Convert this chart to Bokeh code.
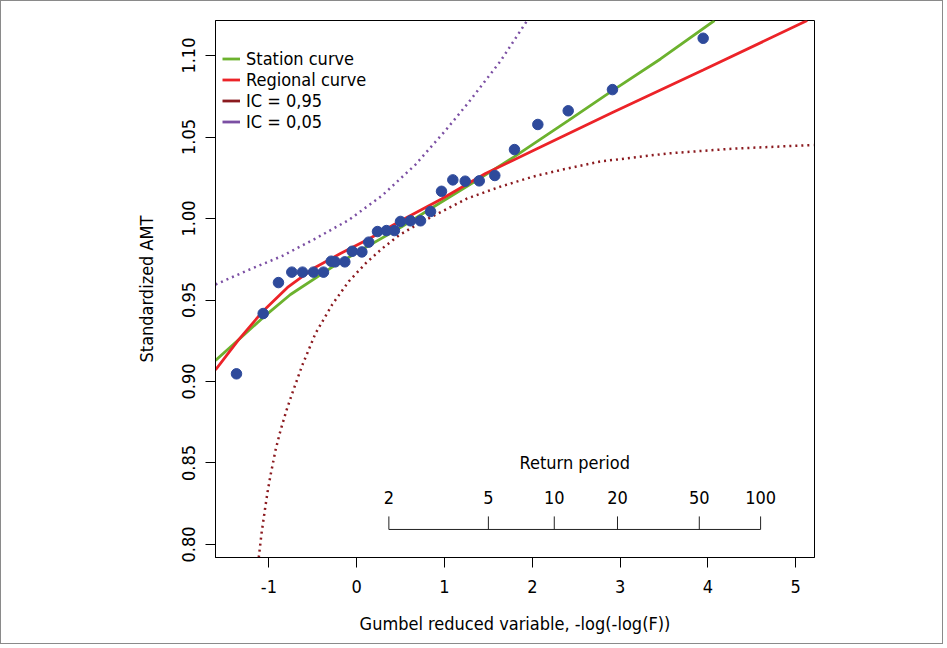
import math
from bokeh.plotting import figure
from bokeh.models import FixedTicker, PrintfTickFormatter, Legend, LegendItem, Range1d
from bokeh.core.properties import value
from bokeh.embed import file_html
from bokeh.resources import INLINE

FONT = "DejaVu Sans Condensed"
FS = "18px"

obs_x = [-1.369, -1.065, -0.891, -0.739, -0.617, -0.492, -0.378, -0.290, -0.245, -0.135,
         -0.051, 0.059, 0.137, 0.237, 0.339, 0.430, 0.499, 0.613, 0.727, 0.841,
         0.966, 1.095, 1.236, 1.396, 1.573, 1.797, 2.063, 2.409, 2.913, 3.946]
obs_y = [0.9047, 0.9417, 0.9607, 0.9671, 0.9671, 0.9671, 0.9671, 0.9738, 0.9734, 0.9734,
         0.9799, 0.9795, 0.9855, 0.9920, 0.9926, 0.9926, 0.9982, 0.9986, 0.9986, 1.0043,
         1.0167, 1.0237, 1.0229, 1.0231, 1.0264, 1.0423, 1.0577, 1.0661, 1.0791, 1.1106]

# Station curve
station_x = [-1.608, -1.323, -1.065, -0.754, -0.249, 0.055, 0.507, 0.841, 1.391, 1.797,
             2.409, 2.913, 3.460, 4.075]
station_y = [0.9129, 0.9267, 0.9393, 0.9534, 0.9712, 0.9808, 0.9947, 1.0060, 1.0242, 1.0380,
             1.0601, 1.0785, 1.0979, 1.1215]

# Regional curve
regional_x = [-1.608, -1.346, -1.065, -0.788, -0.495, -0.185, 0.138, 0.507, 0.966, 1.467,
              2.059, 2.913, 3.946, 5.131]
regional_y = [0.9071, 0.9255, 0.9433, 0.9577, 0.9693, 0.9785, 0.9874, 0.9988, 1.0120, 1.0276,
              1.0429, 1.0650, 1.0911, 1.1215]

# IC = 0,95 (lower bound)
ic95_x = [-1.115, -1.084, -1.050, -1.016, -0.982, -0.925, -0.868, -0.800, -0.735, -0.621,
          -0.469, -0.279, -0.090, 0.100, 0.290, 0.479, 0.670, 0.860, 1.259, 1.638,
          2.014, 2.398, 2.777, 3.536, 4.292, 5.203]
ic95_y = [0.7920, 0.8067, 0.8196, 0.8319, 0.8423, 0.8577, 0.8699, 0.8822, 0.8926, 0.9098,
          0.9295, 0.9472, 0.9614, 0.9724, 0.9816, 0.9896, 0.9957, 1.0012, 1.0123, 1.0196,
          1.0258, 1.0307, 1.0350, 1.0399, 1.0429, 1.0451]

# IC = 0,05 (upper bound)
ic05_x = [-1.608, -1.229, -0.849, -0.469, -0.090, 0.290, 0.670, 1.011, 1.259, 1.638, 1.942]
ic05_y = [0.9595, 0.9685, 0.9770, 0.9877, 0.9991, 1.0141, 1.0331, 1.0540, 1.0702, 1.0966, 1.1215]

return_periods = [2, 5, 10, 20, 50, 100]
return_labels = ["2", "5", "10", "20", "50", "100"]

x_ticks = [-1, 0, 1, 2, 3, 4, 5]
y_ticks = [0.80, 0.85, 0.90, 0.95, 1.00, 1.05, 1.10]

GREEN = "#6cb22e"
RED = "#ec2328"
DARKRED = "#8b1a1f"
PURPLE = "#7b4fa3"
BLUE = "#2e4a9b"

p = figure(width=943, height=644,
           x_range=Range1d(-1.608, 5.214), y_range=Range1d(0.792, 1.1215),
           output_backend="svg", toolbar_location=None,
           min_border_left=214, min_border_top=19, min_border_right=130, min_border_bottom=88,
           styles={"border": "1px solid #8a8a8a"})

p.xgrid.visible = False
p.ygrid.visible = False
p.outline_line_color = "black"
p.outline_line_width = 1
p.background_fill_color = "white"
p.border_fill_color = "white"

for ax in (p.xaxis[0], p.yaxis[0]):
    ax.major_tick_out = 10
    ax.major_tick_in = 0
    ax.minor_tick_out = 0
    ax.minor_tick_in = 0
    ax.axis_line_color = "black"
    ax.major_tick_line_color = "black"
    ax.major_label_text_font = FONT
    ax.major_label_text_font_size = FS
    ax.major_label_text_color = "black"
    ax.axis_label_text_font = FONT
    ax.axis_label_text_font_size = FS
    ax.axis_label_text_font_style = "normal"
    ax.axis_label_text_color = "black"

p.xaxis.ticker = FixedTicker(ticks=x_ticks)
p.xaxis.formatter = PrintfTickFormatter(format="%d")
p.xaxis.major_label_standoff = 12
p.xaxis.axis_label = "Gumbel reduced variable, -log(-log(F))"
p.xaxis.axis_label_standoff = 17
p.yaxis.ticker = FixedTicker(ticks=y_ticks)
p.yaxis.formatter = PrintfTickFormatter(format="%.2f")
p.yaxis.major_label_orientation = "vertical"
p.yaxis.major_label_standoff = 10
p.yaxis.axis_label = "Standardized AMT"
p.yaxis.axis_label_standoff = 23

# curves
p.line(ic05_x, ic05_y, line_color=PURPLE, line_width=2.5, line_dash="2 4")
p.line(ic95_x, ic95_y, line_color=DARKRED, line_width=2.5, line_dash="2 4")
r_station = p.line(station_x, station_y, line_color=GREEN, line_width=2.8)
r_regional = p.line(regional_x, regional_y, line_color=RED, line_width=2.8)
p.scatter(obs_x, obs_y, size=10.5, color=BLUE)

# legend glyphs (solid samples, no visible data)
NAN = [float("nan")]
l95 = p.line(x=NAN, y=NAN, line_color=DARKRED, line_width=2.8)
l05 = p.line(x=NAN, y=NAN, line_color=PURPLE, line_width=2.8)

legend = Legend(items=[LegendItem(label="Station curve", renderers=[r_station]),
                       LegendItem(label="Regional curve", renderers=[r_regional]),
                       LegendItem(label="IC = 0,95", renderers=[l95]),
                       LegendItem(label="IC = 0,05", renderers=[l05])],
                location=(7, 425), padding=0, margin=0, spacing=0,
                border_line_color=None, background_fill_alpha=0,
                label_text_font=FONT, label_text_font_size=FS, label_text_color="black",
                glyph_width=18, glyph_height=21, label_height=21, label_standoff=6)
p.add_layout(legend)

# Return period inset axis
rp_x = [-math.log(-math.log(1.0 - 1.0 / T)) for T in return_periods]
RP_Y = 0.8092
RP_TICK_TOP = 0.8172
RP_LABEL_Y = 0.8288
RP_TITLE_Y = 0.8503
p.segment(x0=rp_x[0], y0=RP_Y, x1=rp_x[-1], y1=RP_Y, line_color="#222222", line_width=1)
p.segment(x0=rp_x, y0=[RP_Y] * len(rp_x), x1=rp_x, y1=[RP_TICK_TOP] * len(rp_x),
          line_color="#222222", line_width=1)
p.text(x=rp_x, y=[RP_LABEL_Y] * len(rp_x), text=return_labels,
       text_align="center", text_baseline="middle",
       text_font=value(FONT), text_font_size=FS, text_color="black")
p.text(x=[(rp_x[0] + rp_x[-1]) / 2], y=[RP_TITLE_Y], text=["Return period"],
       text_align="center", text_baseline="middle",
       text_font=value(FONT), text_font_size=FS, text_color="black")

open("out.html", "w").write(file_html(p, INLINE))
